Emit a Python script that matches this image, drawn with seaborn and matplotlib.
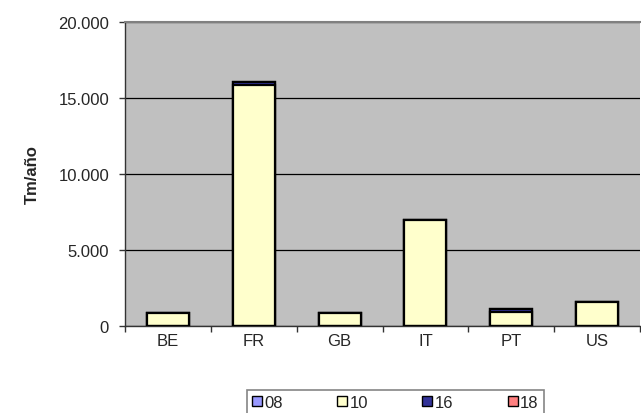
import matplotlib
matplotlib.use("Agg")
import matplotlib.pyplot as plt
import matplotlib.ticker as mticker
from matplotlib.patches import Patch
import seaborn as sns
import pandas as pd
import numpy as np

categories = ["BE", "FR", "GB", "IT", "PT", "US"]
series_names = ["08", "10", "16", "18"]
s08 = [0, 0, 0, 0, 0, 0]
s10 = [850, 15850, 850, 7000, 900, 1550]
s16 = [0, 200, 0, 0, 250, 0]
s18 = [0, 0, 0, 0, 0, 0]
colors = ["#9999FF", "#FFFFCC", "#333399", "#FF8080"]

sns.set_theme(style="white")
plt.rcParams['font.family'] = ['Liberation Sans', 'DejaVu Sans']

fig = plt.figure(figsize=(6.41, 4.14), dpi=100)
ax = fig.add_axes([125/641, 1-327/414, (640-125)/641, (327-23)/414])
ax.set_facecolor("#C0C0C0")

vals = [s08, s10, s16, s18]
cum = np.cumsum(np.array(vals, dtype=float), axis=0)
# draw from top of stack downward so lower segments overlay upper ones
for i in range(len(series_names) - 1, -1, -1):
    df = pd.DataFrame({"cat": categories, "v": cum[i]})
    sns.barplot(data=df, x="cat", y="v", order=categories, color=colors[i],
                saturation=1, width=0.49, edgecolor="black", linewidth=1.6,
                ax=ax, zorder=3)

ax.set_xlim(-0.5, 5.5)
ax.set_ylim(0, 20000)
ax.yaxis.set_major_locator(mticker.MultipleLocator(5000))
ax.yaxis.set_major_formatter(mticker.FuncFormatter(lambda v, p: f"{int(v):,}".replace(",", ".")))
ax.grid(axis="y", color="black", linewidth=0.9, zorder=1)
ax.set_axisbelow(True)

ax.set_xlabel("")
ax.set_ylabel("Tm/año", fontsize=12, fontweight="bold", labelpad=13)
ax.tick_params(axis="y", which="major", direction="out", length=4.5, width=1, color="#333333",
               labelsize=12, left=True, pad=7)
ax.tick_params(axis="x", which="major", length=0, labelsize=12, pad=5)
ax.set_xticks(np.arange(-0.5, 6.0, 1.0), minor=True)
ax.tick_params(axis="x", which="minor", direction="out", length=4.5, width=1, color="#333333", bottom=True)

for s in ["left", "bottom"]:
    ax.spines[s].set_color("#333333")
    ax.spines[s].set_linewidth(1.0)
ax.spines["top"].set_color("#808080")
ax.spines["top"].set_linewidth(1.5)
ax.spines["right"].set_visible(False)

handles = [Patch(facecolor=c, edgecolor="black", linewidth=1) for c in colors]
leg = fig.legend(handles, series_names, loc="upper left",
                 bbox_to_anchor=(247/641, 1-391/414), ncol=4, frameon=True,
                 fancybox=False, fontsize=12, handlelength=0.6, handleheight=0.6,
                 handletextpad=0.15, columnspacing=3.25, borderpad=0.3, borderaxespad=0)
leg.get_frame().set_edgecolor("#666666")
leg.get_frame().set_linewidth(1.2)

fig.savefig("out.png", dpi=100, facecolor="white")
